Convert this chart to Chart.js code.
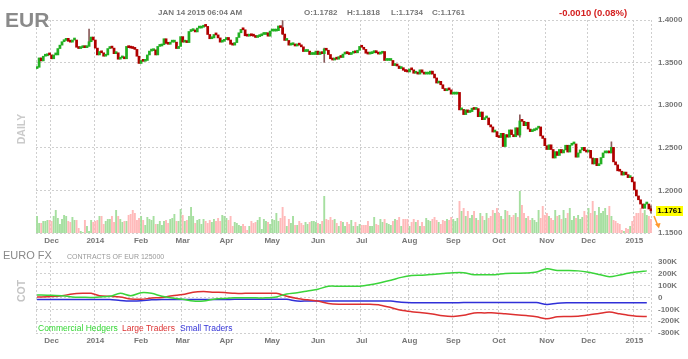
<!DOCTYPE html>
<html>
<head>
<meta charset="utf-8">
<script src="https://cdn.jsdelivr.net/npm/chart.js@4.4.1/dist/chart.umd.min.js"></script>
<style>
  body { margin: 0; background: #fff; width: 688px; height: 359px; overflow: hidden; position: relative;
         font-family: "Liberation Sans", Arial, sans-serif; }
  canvas { position: absolute; left: 0; }
  .t { position: absolute; white-space: nowrap; line-height: 1; }
  .rot { position: absolute; white-space: nowrap; line-height: 1; transform: translate(-50%, -50%) rotate(-90deg); }
</style>
</head>
<body>

<canvas id="priceChart" width="688" height="248" style="top:0"></canvas>
<canvas id="cotChart" width="688" height="111" style="top:248px"></canvas>

<div class="t" style="left:5px;top:9px;font-size:21px;font-weight:bold;color:#8a8a8a">EUR</div>
<div class="t" style="left:158px;top:9px;font-size:8px;font-weight:bold;color:#777">JAN 14 2015 06:04 AM</div>
<div class="t" style="left:304px;top:9px;font-size:8px;font-weight:bold;color:#777">O:1.1782</div>
<div class="t" style="left:347px;top:9px;font-size:8px;font-weight:bold;color:#777">H:1.1818</div>
<div class="t" style="left:391px;top:9px;font-size:8px;font-weight:bold;color:#777">L:1.1734</div>
<div class="t" style="left:432px;top:9px;font-size:8px;font-weight:bold;color:#777">C:1.1761</div>
<div class="t" style="left:559px;top:8px;font-size:9.5px;font-weight:bold;color:#d42020">-0.0010 (0.08%)</div>
<div class="rot" style="left:21px;top:129px;font-size:10.5px;font-weight:bold;color:#cacaca">DAILY</div>
<div class="t" style="left:656px;top:206px;width:27px;height:10px;line-height:10px;background:#ffff00;font-size:8px;font-weight:bold;color:#000;text-align:center">1.1761</div>
<svg style="position:absolute;left:650px;top:214px" width="14" height="16">
  <line x1="4" y1="2" x2="8" y2="12" stroke="#ff9a2e" stroke-width="1.5"/>
  <polygon points="5,10 10.5,9 9,14.5" fill="#ff9a2e"/>
</svg>

<div class="t" style="left:3px;top:250px;font-size:11px;color:#888">EURO FX</div>
<div class="t" style="left:67px;top:253px;font-size:7px;color:#999">CONTRACTS OF EUR 125000</div>
<div class="rot" style="left:21px;top:291px;font-size:10.5px;font-weight:bold;color:#c4c4c4">COT</div>
<div class="t" style="left:38px;top:324px;font-size:8.5px;color:#33d633">Commercial Hedgers</div>
<div class="t" style="left:122px;top:324px;font-size:8.5px;color:#dd3333">Large Traders</div>
<div class="t" style="left:180px;top:324px;font-size:8.5px;color:#3535d8">Small Traders</div>

<script>
/* ---------- data ---------- */

const startDay = '2013-11-21';
const endDay = '2015-01-14';
const holidays = ['2013-12-25', '2014-01-01', '2014-12-25', '2015-01-01'];
const monthNames = ['Jan', 'Feb', 'Mar', 'Apr', 'May', 'Jun', 'Jul', 'Aug', 'Sep', 'Oct', 'Nov', 'Dec'];

const firstOpen = 1.3430;

// daily closes, one line per month
const closes = [
    1.3445, 1.3555, 1.3520, 1.3575, 1.3580, 1.3595, 1.3590,
    1.3545, 1.3590, 1.3590, 1.3665, 1.3705, 1.3745, 1.3760, 1.3785, 1.3750, 1.3740, 1.3765, 1.3765, 1.3680, 1.3665, 1.3675, 1.3695, 1.3675, 1.3690, 1.3745, 1.3800, 1.3765,
    1.3670, 1.3590, 1.3630, 1.3615, 1.3575, 1.3590, 1.3665, 1.3675, 1.3670, 1.3605, 1.3615, 1.3540, 1.3555, 1.3560, 1.3545, 1.3690, 1.3675, 1.3670, 1.3665, 1.3655, 1.3575, 1.3490,
    1.3525, 1.3515, 1.3525, 1.3590, 1.3635, 1.3640, 1.3650, 1.3590, 1.3690, 1.3695, 1.3710, 1.3780, 1.3725, 1.3715, 1.3740, 1.3740, 1.3740, 1.3665, 1.3690, 1.3805,
    1.3740, 1.3740, 1.3735, 1.3865, 1.3875, 1.3875, 1.3860, 1.3905, 1.3905, 1.3915, 1.3930, 1.3925, 1.3830, 1.3780, 1.3790, 1.3830, 1.3825, 1.3790, 1.3740, 1.3750, 1.3770,
    1.3795, 1.3765, 1.3715, 1.3705, 1.3735, 1.3795, 1.3850, 1.3890, 1.3885, 1.3815, 1.3810, 1.3820, 1.3815, 1.3810, 1.3795, 1.3805, 1.3815, 1.3830, 1.3830, 1.3850, 1.3810, 1.3870,
    1.3870, 1.3870, 1.3875, 1.3930, 1.3910, 1.3835, 1.3760, 1.3760, 1.3705, 1.3710, 1.3710, 1.3695, 1.3710, 1.3705, 1.3685, 1.3630, 1.3630, 1.3635, 1.3595, 1.3595, 1.3595, 1.3635,
    1.3595, 1.3625, 1.3605, 1.3660, 1.3645, 1.3595, 1.3545, 1.3530, 1.3545, 1.3540, 1.3570, 1.3560, 1.3600, 1.3615, 1.3605, 1.3595, 1.3610, 1.3620, 1.3615, 1.3645, 1.3690,
    1.3680, 1.3655, 1.3610, 1.3600, 1.3605, 1.3615, 1.3640, 1.3615, 1.3600, 1.3610, 1.3630, 1.3525, 1.3525, 1.3525, 1.3525, 1.3465, 1.3465, 1.3460, 1.3430, 1.3440, 1.3410, 1.3395, 1.3390,
    1.3425, 1.3415, 1.3375, 1.3375, 1.3365, 1.3415, 1.3385, 1.3365, 1.3365, 1.3365, 1.3400, 1.3365, 1.3320, 1.3260, 1.3280, 1.3240, 1.3195, 1.3170, 1.3190, 1.3180, 1.3130,
    1.3130, 1.3130, 1.3150, 1.2945, 1.2950, 1.2890, 1.2945, 1.2915, 1.2925, 1.2965, 1.2950, 1.2960, 1.2865, 1.2920, 1.2830, 1.2850, 1.2850, 1.2770, 1.2745, 1.2685, 1.2690, 1.2630,
    1.2620, 1.2670, 1.2515, 1.2655, 1.2625, 1.2710, 1.2655, 1.2630, 1.2735, 1.2650, 1.2815, 1.2810, 1.2760, 1.2800, 1.2720, 1.2690, 1.2700, 1.2710, 1.2730, 1.2745, 1.2640, 1.2610, 1.2525,
    1.2480, 1.2535, 1.2480, 1.2380, 1.2455, 1.2410, 1.2480, 1.2440, 1.2475, 1.2530, 1.2450, 1.2530, 1.2545, 1.2545, 1.2390, 1.2440, 1.2475, 1.2505, 1.2465, 1.2450,
    1.2470, 1.2380, 1.2310, 1.2375, 1.2290, 1.2310, 1.2385, 1.2440, 1.2440, 1.2460, 1.2440, 1.2505, 1.2335, 1.2300, 1.2230, 1.2225, 1.2180, 1.2215, 1.2185, 1.2150, 1.2155, 1.2100,
    1.2005, 1.1935, 1.1890, 1.1840, 1.1790, 1.1840, 1.1840, 1.1782, 1.1761
];

// notable wicks
const wickDays = ['2013-12-27', '2014-05-08', '2014-06-05', '2014-10-15', '2014-12-16', '2015-01-14'];
const wickLows = [1.3740, 1.3830, 1.3503, 1.2625, 1.2440, 1.1734];
const wickHighs = [1.3893, 1.3993, 1.3670, 1.2887, 1.2570, 1.1818];

// daily volume
const volumes = [
    17, 10, 10, 12, 12, 13, 13, 12, 17, 23, 15, 9, 14, 18, 17, 12, 11, 16, 13, 13,
    5, 2, 1, 13, 7, 2, 13, 11, 12, 13, 17, 17, 9, 12, 14, 14, 17, 11, 23, 17, 14, 11,
    12, 12, 18, 19, 23, 20, 13, 15, 17, 13, 8, 16, 14, 13, 17, 9, 9, 12, 8, 12, 13, 10,
    14, 15, 19, 12, 12, 24, 18, 12, 13, 17, 26, 17, 10, 13, 14, 9, 14, 12, 10, 13, 11, 14,
    12, 15, 12, 18, 17, 15, 13,
    17, 7, 11, 10, 8, 7, 9, 7, 3, 7, 12, 10, 11, 13, 16, 4, 14, 12, 11, 9, 14, 13, 20, 12, 15,
    26,
    17, 7, 14, 10, 17, 8, 8, 12, 10, 8, 11, 9, 11, 12, 12, 11, 10, 9, 12,
    37,
    14, 13, 16, 13, 14, 10, 7, 12, 11, 7, 11, 9, 13, 7, 11, 7, 9, 8, 8, 8,
    12, 7, 7, 16, 9, 8, 14, 11, 14, 10, 9, 8, 12, 14, 13, 16, 7, 14, 14, 14,
    7, 11, 14, 11, 13, 7, 11, 7, 15, 13, 12, 14, 16, 13, 11, 9, 13, 12, 14, 13,
    16, 14, 12, 15,
    32,
    22, 25, 17, 22, 15, 18, 22, 15, 13, 20, 17, 13, 20, 15, 17, 23, 20, 25, 20, 17,
    14, 23, 22, 18, 16, 18, 20, 16,
    42,
    28, 20, 15, 17, 13, 15, 13, 11, 23, 15, 27, 18, 20, 17, 15, 13, 23, 17, 18, 14,
    23, 15, 20, 25, 13, 17, 15, 18, 14, 16, 22, 18,
    25, 20, 32, 22, 18, 26, 20, 22, 25, 18, 27,
    17, 13, 12, 10, 9, 3, 2, 5, 4, 7, 12,
    17, 20, 20, 25, 20, 23, 18, 17, 14
];

// weekly COT net positions (thousand contracts)
const cotCommercial = [
    22, 22, 18, 15, 5, 2, 0, 5, 10, 35, 15, 40, 35, 10, -5, -15, -30, -30, -15, -8,
    -3, -3, -3, -3, 5, 30, 40, 55, 70, 95, 95, 95, 96, 108, 125, 145, 170, 185, 188, 195,
    203, 210, 210, 193, 193, 193, 203, 205, 207, 215, 242, 228, 228, 225, 213, 195, 175, 190, 205, 216,
    225
];
const cotLarge = [
    5, 5, 8, 15, 30, 35, 35, 15, 10, 5, -12, -15, -5, 0, 15, 25, 45, 50, 45, 42,
    35, 35, 35, 35, 35, 10, -8, -20, -30, -50, -57, -57, -57, -58, -65, -85, -108, -120, -128, -140,
    -155, -160, -150, -130, -130, -130, -138, -145, -153, -163, -180, -162, -160, -158, -148, -135, -123, -138, -150, -158,
    -160
];
const cotSmall = [
    -17, -17, -17, -17, -17, -17, -17, -17, -17, -25, -30, -28, -20, -17, -17, -17, -17, -17, -17, -17,
    -15, -15, -15, -15, -15, -15, -30, -30, -30, -30, -30, -30, -30, -30, -30, -30, -40, -45, -45, -45,
    -45, -45, -43, -43, -43, -43, -43, -43, -43, -43, -60, -48, -45, -45, -45, -45, -45, -45, -45, -45,
    -45
];

const priceMin = 1.15, priceMax = 1.40, priceStep = 0.05;
const cotMin = -300, cotMax = 300, cotStep = 100;

/* ---------- helpers ---------- */

function tradingDays(from, to, skip) {
    const out = [];
    const d = new Date(from + 'T00:00:00Z');
    const end = new Date(to + 'T00:00:00Z');
    while (d <= end) {
        const iso = d.toISOString().slice(0, 10);
        const wd = d.getUTCDay();
        if (wd !== 0 && wd !== 6 && !skip.includes(iso)) out.push(iso);
        d.setUTCDate(d.getUTCDate() + 1);
    }
    return out;
}

const days = tradingDays(startDay, endDay, holidays);
const dow = s => new Date(s + 'T00:00:00Z').getUTCDay();

const isMonthStart = i => i > 0 && i < days.length && days[i].slice(5, 7) !== days[i - 1].slice(5, 7);
const monthLabel = i => {
    const m = +days[i].slice(5, 7);
    return m === 1 ? days[i].slice(0, 4) : monthNames[m - 1];
};

// first trading day of each week carries the weekly COT value
const weekStarts = days.map((d, i) => i).filter(i => i === 0 || dow(days[i]) <= dow(days[i - 1]));

const GRID = '#cfcfcf';
const tickFont = { family: 'Liberation Sans', size: 8, weight: 'bold' };

const frame = {
    id: 'frame',
    beforeDatasetsDraw(chart) {
        const { ctx, chartArea: a } = chart;
        ctx.save();
        ctx.strokeStyle = GRID;
        ctx.lineWidth = 1;
        ctx.setLineDash([2, 2]);
        ctx.beginPath();
        ctx.moveTo(Math.round(a.left) + 0.5, a.top);
        ctx.lineTo(Math.round(a.left) + 0.5, a.bottom);
        ctx.moveTo(Math.round(a.right) - 0.5, a.top);
        ctx.lineTo(Math.round(a.right) - 0.5, a.bottom);
        ctx.stroke();
        ctx.restore();
    }
};

function monthAxis(height) {
    return {
        type: 'category',
        offset: true,
        grid: {
            offset: true,
            drawTicks: false,
            color: c => isMonthStart(c.index) ? GRID : 'rgba(0,0,0,0)'
        },
        border: { display: false, dash: [2, 2] },
        ticks: {
            autoSkip: false,
            maxRotation: 0,
            padding: 3,
            font: tickFont,
            color: '#777',
            callback: (v, i) => isMonthStart(i) ? monthLabel(i) : ''
        },
        afterFit(s) { s.height = height; }
    };
}

function rightAxis(min, max, step, fmt) {
    return {
        position: 'right',
        min, max,
        ticks: {
            stepSize: step,
            autoSkip: false,
            padding: 6,
            font: tickFont,
            color: '#777',
            callback: fmt
        },
        grid: { drawTicks: false, color: GRID },
        border: { display: false, dash: [2, 2] },
        afterFit(s) { s.width = 36; }
    };
}

/* ---------- price panel ---------- */

const opens = closes.map((c, i) => i ? closes[i - 1] : firstOpen);
const up = closes.map((c, i) => c >= opens[i]);

new Chart(document.getElementById('priceChart'), {
    type: 'bar',
    data: {
        labels: days,
        datasets: [
            {
                label: 'EUR',
                data: closes.map((c, i) => ({ x: days[i], y: [opens[i], c] })),
                backgroundColor: up.map(u => u ? '#22b022' : '#b00000'),
                barPercentage: 1,
                categoryPercentage: 1,
                minBarLength: 2,
                grouped: false,
                order: 0
            },
            {
                label: 'wick',
                data: wickDays.map((d, k) => ({ x: d, y: [wickLows[k], wickHighs[k]] })),
                backgroundColor: '#8a5a5a',
                barThickness: 1,
                grouped: false,
                order: 1
            },
            {
                label: 'Volume',
                data: volumes.map((v, i) => ({ x: days[i], y: v })),
                backgroundColor: up.map(u => u ? '#a6dfa0' : '#ffbaba'),
                barPercentage: 0.92,
                categoryPercentage: 1,
                grouped: false,
                yAxisID: 'yv',
                order: 2
            }
        ]
    },
    options: {
        responsive: false,
        animation: false,
        layout: { padding: { left: 36, top: 20, right: 0, bottom: 0 } },
        plugins: { legend: { display: false }, tooltip: { enabled: false } },
        scales: {
            x: monthAxis(15),
            y: rightAxis(priceMin, priceMax, priceStep, v => v.toFixed(4)),
            yv: { display: false, min: 0, max: 213 }
        }
    },
    plugins: [frame]
});

/* ---------- COT panel ---------- */

function cotLine(label, values, colour) {
    return {
        label,
        data: values.slice(0, weekStarts.length).map((v, k) => ({ x: days[weekStarts[k]], y: v })),
        borderColor: colour,
        borderWidth: 1.5,
        pointRadius: 0,
        tension: 0.3
    };
}

new Chart(document.getElementById('cotChart'), {
    type: 'line',
    data: {
        labels: days,
        datasets: [
            cotLine('Commercial Hedgers', cotCommercial, '#3ad43a'),
            cotLine('Large Traders', cotLarge, '#dd3030'),
            cotLine('Small Traders', cotSmall, '#3030d8')
        ]
    },
    options: {
        responsive: false,
        animation: false,
        layout: { padding: { left: 36, top: 14, right: 0, bottom: 0 } },
        plugins: { legend: { display: false }, tooltip: { enabled: false } },
        scales: {
            x: monthAxis(26),
            y: rightAxis(cotMin, cotMax, cotStep, v => v === 0 ? '0' : v + 'K')
        }
    },
    plugins: [frame]
});
</script>
</body>
</html>
